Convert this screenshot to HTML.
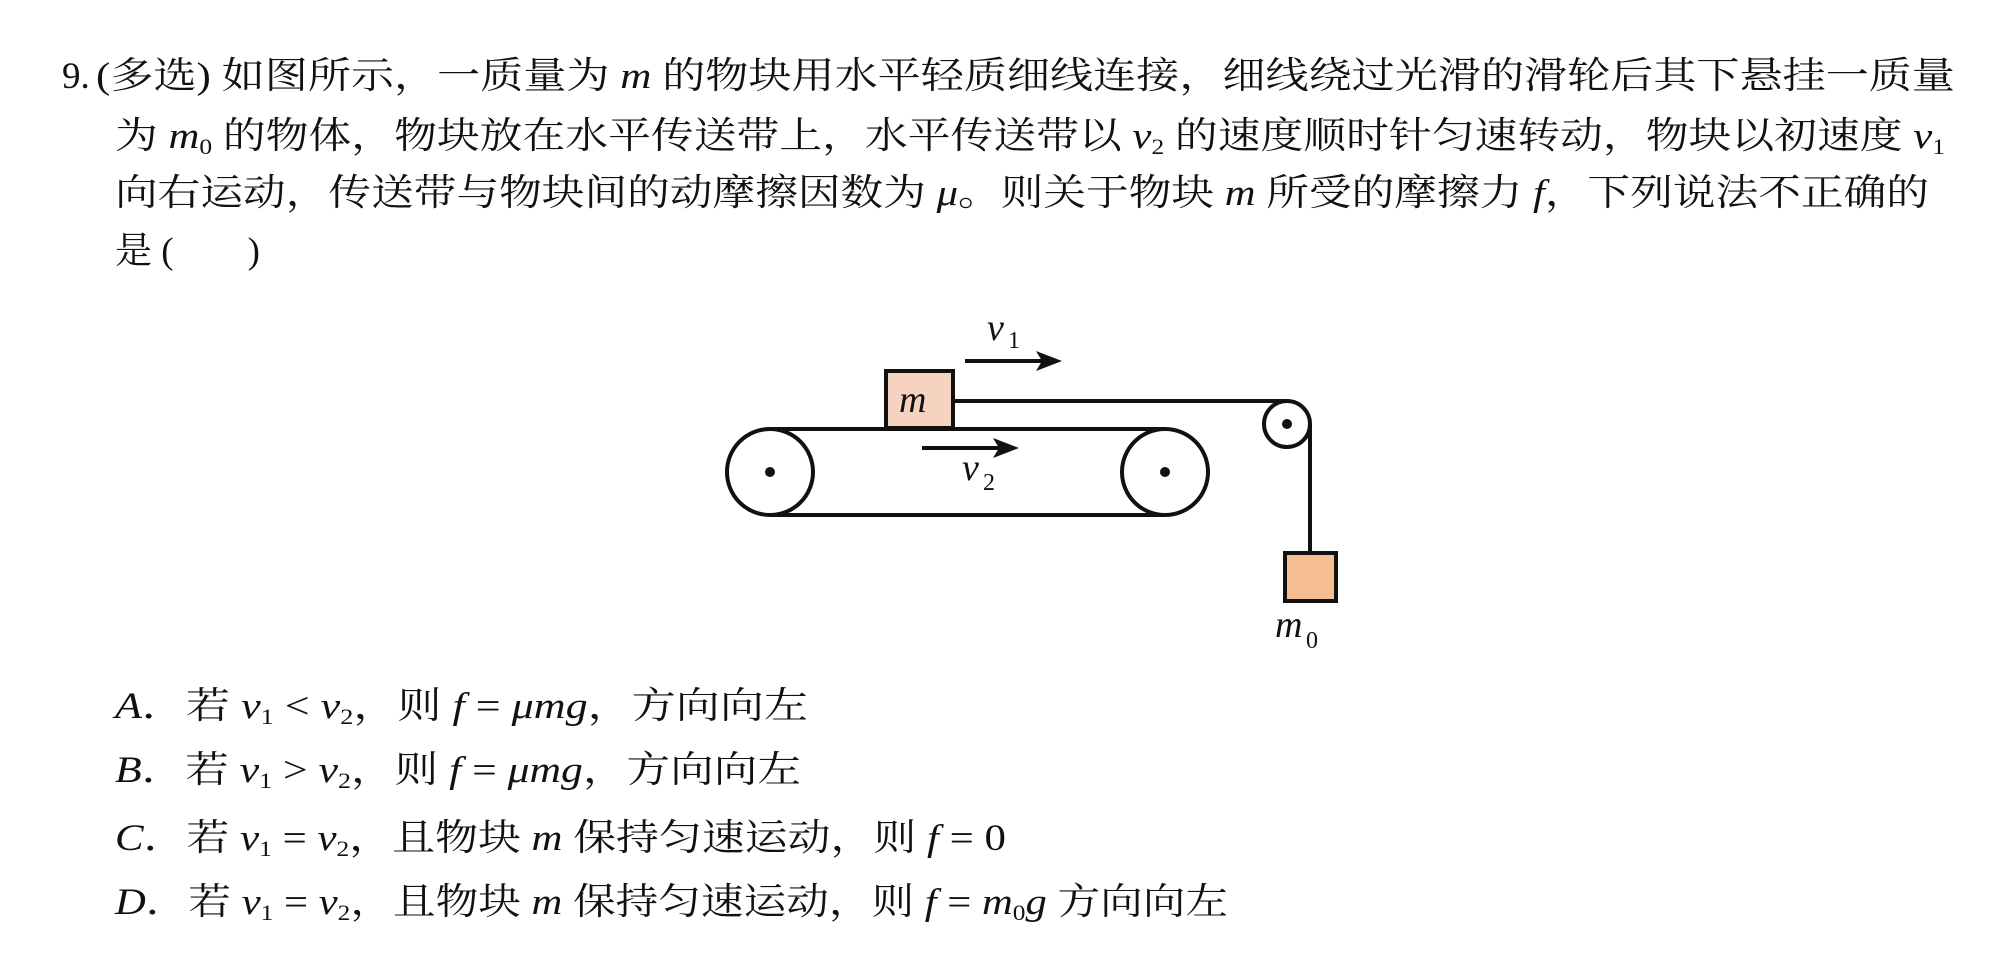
<!DOCTYPE html>
<html><head><meta charset="utf-8"><style>
html,body{margin:0;padding:0;background:#fff;}
svg{display:block;}
text{font-family:"Liberation Serif","Noto Serif CJK SC","Noto Sans CJK SC",serif;font-size:37px;fill:#111;}
.i{font-style:italic;}
.s{font-size:22px;}
</style></head><body>
<svg width="2000" height="974" viewBox="0 0 2000 974" xmlns="http://www.w3.org/2000/svg">
<text x="62" y="88">9.</text>
<text x="96" y="88" textLength="1859" lengthAdjust="spacingAndGlyphs">(多选) 如图所示，一质量为 <tspan class="i">m</tspan> 的物块用水平轻质细线连接，细线绕过光滑的滑轮后其下悬挂一质量</text>
<text x="115" y="148" textLength="1830" lengthAdjust="spacingAndGlyphs">为 <tspan class="i">m</tspan><tspan class="s" dy="6">0</tspan><tspan dy="-6"> 的物体，物块放在水平传送带上，水平传送带以 </tspan><tspan class="i">v</tspan><tspan class="s" dy="6">2</tspan><tspan dy="-6"> 的速度顺时针匀速转动，物块以初速度 </tspan><tspan class="i">v</tspan><tspan class="s" dy="6">1</tspan></text>
<text x="115" y="205" textLength="1814" lengthAdjust="spacingAndGlyphs">向右运动，传送带与物块间的动摩擦因数为 <tspan class="i">μ</tspan>。则关于物块 <tspan class="i">m</tspan> 所受的摩擦力 <tspan class="i">f</tspan>，下列说法不正确的</text>
<text x="115" y="263">是 (　　)</text>

<!-- diagram -->
<g stroke="#111" stroke-width="4" fill="none">
<circle cx="770" cy="472" r="43" fill="#fff"/>
<circle cx="1165" cy="472" r="43" fill="#fff"/>
<line x1="770" y1="429" x2="1165" y2="429"/>
<line x1="770" y1="515" x2="1165" y2="515"/>
<rect x="886" y="371" width="67" height="57" fill="#f6d3c0"/>
<line x1="953" y1="401" x2="1287" y2="401"/>
<circle cx="1287" cy="424" r="23" fill="#fff"/>
<line x1="1310" y1="424" x2="1310" y2="553"/>
<rect x="1285" y="553" width="51" height="48" fill="#f6bf92"/>
<line x1="965" y1="361" x2="1045" y2="361"/>
<line x1="922" y1="448" x2="1003" y2="448"/>
</g>
<g fill="#111">
<circle cx="770" cy="472" r="5"/><circle cx="1165" cy="472" r="5"/><circle cx="1287" cy="424" r="5"/>
<polygon points="1062,361 1036,351 1042,361 1036,371"/>
<polygon points="1019,448 993,438 999,448 993,458"/>
</g>
<text class="i" x="899" y="412" style="font-size:38px">m</text>
<text class="i" x="987" y="340" style="font-size:38px">v</text><text x="1008" y="348" style="font-size:24px">1</text>
<text class="i" x="962" y="480" style="font-size:38px">v</text><text x="983" y="490" style="font-size:24px">2</text>
<text class="i" x="1275" y="637" style="font-size:38px">m</text><text x="1306" y="648" style="font-size:24px">0</text>

<text x="115" y="718" textLength="693" lengthAdjust="spacingAndGlyphs"><tspan class="i">A</tspan>．若 <tspan class="i">v</tspan><tspan class="s" dy="6">1</tspan><tspan dy="-6"> &lt; </tspan><tspan class="i">v</tspan><tspan class="s" dy="6">2</tspan><tspan dy="-6">，则 </tspan><tspan class="i">f</tspan> = <tspan class="i">μmg</tspan>，方向向左</text>
<text x="115" y="782" textLength="686" lengthAdjust="spacingAndGlyphs"><tspan class="i">B</tspan>．若 <tspan class="i">v</tspan><tspan class="s" dy="6">1</tspan><tspan dy="-6"> &gt; </tspan><tspan class="i">v</tspan><tspan class="s" dy="6">2</tspan><tspan dy="-6">，则 </tspan><tspan class="i">f</tspan> = <tspan class="i">μmg</tspan>，方向向左</text>
<text x="115" y="850" textLength="891" lengthAdjust="spacingAndGlyphs"><tspan class="i">C</tspan>．若 <tspan class="i">v</tspan><tspan class="s" dy="6">1</tspan><tspan dy="-6"> = </tspan><tspan class="i">v</tspan><tspan class="s" dy="6">2</tspan><tspan dy="-6">，且物块 </tspan><tspan class="i">m</tspan> 保持匀速运动，则 <tspan class="i">f</tspan> = 0</text>
<text x="115" y="914" textLength="1113" lengthAdjust="spacingAndGlyphs"><tspan class="i">D</tspan>．若 <tspan class="i">v</tspan><tspan class="s" dy="6">1</tspan><tspan dy="-6"> = </tspan><tspan class="i">v</tspan><tspan class="s" dy="6">2</tspan><tspan dy="-6">，且物块 </tspan><tspan class="i">m</tspan> 保持匀速运动，则 <tspan class="i">f</tspan> = <tspan class="i">m</tspan><tspan class="s" dy="6">0</tspan><tspan class="i" dy="-6">g</tspan> 方向向左</text>
</svg>
</body></html>
